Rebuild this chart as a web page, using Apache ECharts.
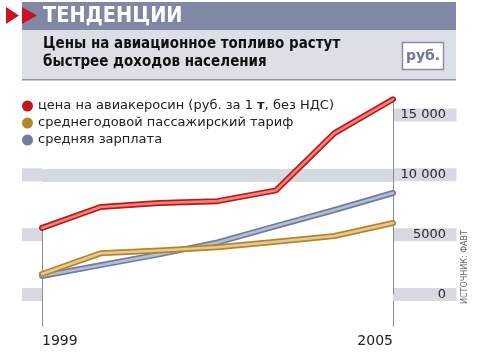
<!DOCTYPE html>
<html><head><meta charset="utf-8">
<script src="https://cdn.jsdelivr.net/npm/echarts@6/dist/echarts.min.js"></script>
<style>html,body{margin:0;padding:0;background:#fff}#c{width:481px;height:357px}</style>
</head><body><div id="c"></div>
<script>
const years = ['1999','2000','2001','2002','2003','2004','2005'];
const seriesNames = ['цена на авиакеросин (руб. за 1 т, без НДС)','среднегодовой пассажирский тариф','средняя зарплата'];
const fuelPrice = [5560, 7310, 7650, 7800, 8700, 13490, 16310];
const airFare   = [1710, 3440, 3680, 3950, 4410, 4890, 5970];
const avgSalary = [1550, 2450, 3350, 4350, 5720, 7060, 8480];
const yTicks = [0, 5000, 10000, 15000];
const yTickLabels = ['0', '5000', '10 000', '15 000'];

const outer = ['#c3141c', '#b4862a', '#6e7ea0'];
const inner = ['#e5887a', '#e8c995', '#b6bed2'];
const band = '#d6d9e2';

function tickLabel(v){ const i = yTicks.indexOf(v); return i < 0 ? '' : yTickLabels[i]; }
const edgeIdx = (i) => i === 0 || i === years.length - 1;

function mkSeries(idx, data, z, withMark){
  const s = [{
    name: seriesNames[idx], type: 'line', data: data, symbol: 'none', clip: false, z: z,
    itemStyle: {color: outer[idx]},
    lineStyle: {color: outer[idx], width: 6, cap: 'round', join: 'round'},
    emphasis: {disabled: true}
  }, {
    name: seriesNames[idx] + ' ', type: 'line', data: data, symbol: 'none', clip: false, z: z + 0.5,
    itemStyle: {color: inner[idx]},
    lineStyle: {color: inner[idx], width: 2.6, cap: 'round', join: 'round'},
    emphasis: {disabled: true}, tooltip: {show: false}
  }];
  if (withMark) {
    s[0].markLine = {
      silent: true, symbol: 'none', label: {show: false}, z: 1,
      lineStyle: {color: '#8c8c92', width: 1, type: 'solid'},
      data: [
        [{coord: [years[0], 0]}, {coord: [years[0], data[0]]}],
        [{coord: [years[years.length-1], 0]}, {coord: [years[years.length-1], data[data.length-1]]}]
      ]
    };
  }
  return s;
}

const chart = echarts.init(document.getElementById('c'), null, {renderer: 'canvas'});
chart.setOption({
  animation: false,
  backgroundColor: '#fff',
  grid: {left: 42, right: 88, top: 97, bottom: 62.5, containLabel: false},
  legend: {
    data: seriesNames, orient: 'vertical', left: 22, top: 98, padding: 0,
    icon: 'circle', itemWidth: 11, itemHeight: 11, itemGap: 1, selectedMode: false,
    textStyle: {fontFamily: 'DejaVu Sans', fontSize: 13, color: '#222', lineHeight: 16,
      rich: {b: {fontFamily: 'DejaVu Sans', fontSize: 13, fontWeight: 'bold', color: '#222'}}},
    formatter: (n) => n === seriesNames[0] ? 'цена на авиакеросин (руб. за 1 {b|т}, без НДС)' : n
  },
  xAxis: {
    type: 'category', data: years, boundaryGap: false,
    axisLine: {show: false},
    axisTick: {show: true, interval: (i) => edgeIdx(i), length: 32, lineStyle: {color: '#8c8c92', width: 1}},
    axisLabel: {interval: (i) => edgeIdx(i), margin: 40, fontFamily: 'DejaVu Sans', fontSize: 14, color: '#222',
      alignMinLabel: 'left', alignMaxLabel: 'right'},
    splitLine: {show: false}
  },
  yAxis: [{
    type: 'value', min: 0, max: 16500, interval: 5000, position: 'left',
    axisLine: {show: false}, axisTick: {show: false},
    splitLine: {show: true, lineStyle: {width: 13, color: ['rgba(0,0,0,0)','rgba(0,0,0,0)', band, 'rgba(0,0,0,0)','rgba(0,0,0,0)']}},
    axisLabel: {margin: 0, showMaxLabel: false,
      formatter: (v) => (v === 15000 || yTicks.indexOf(v) < 0) ? '' : '{b| }',
      rich: {b: {width: 20, height: 13, lineHeight: 13, backgroundColor: band}}}
  }, {
    type: 'value', min: 0, max: 16500, interval: 5000, position: 'right',
    axisLine: {show: false}, axisTick: {show: false}, splitLine: {show: false},
    axisLabel: {margin: 0, showMaxLabel: false,
      formatter: (v) => { const t = tickLabel(v); return t ? '{b|' + t + '}' : ''; },
      rich: {b: {width: 53, height: 13, lineHeight: 13, align: 'right', padding: [0, 10.5, 0, 0],
        backgroundColor: band, fontFamily: 'DejaVu Sans', fontSize: 13, color: '#2a2a2a'}}}
  }],
  series: [].concat(mkSeries(2, avgSalary, 3, false), mkSeries(1, airFare, 5, false), mkSeries(0, fuelPrice, 7, true)),
  graphic: [
    {type: 'rect', shape: {x: 22, y: 2, width: 434, height: 28}, style: {fill: '#8088a6'}},
    {type: 'rect', shape: {x: 22, y: 30, width: 434, height: 49}, style: {fill: '#dcdfe6'}},
    {type: 'rect', shape: {x: 22, y: 79, width: 434, height: 1.5}, style: {fill: '#8a90ad'}},
    {type: 'polygon', shape: {points: [[6, 7], [19, 15.5], [6, 24]]}, style: {fill: '#cc1220'}},
    {type: 'polygon', shape: {points: [[22, 7], [37, 15.5], [22, 24]]}, style: {fill: '#cc1220'}},
    {type: 'text', x: 43, y: 16.5, style: {text: 'ТЕНДЕНЦИИ', fill: '#fff', font: 'bold 21.5px "DejaVu Sans Condensed", "DejaVu Sans"', textVerticalAlign: 'middle'}},
    {type: 'text', x: 43, y: 44.5, style: {text: 'Цены на авиационное топливо растут', fill: '#111', font: 'bold 15px "DejaVu Sans Condensed", "DejaVu Sans"', textVerticalAlign: 'middle'}},
    {type: 'text', x: 43, y: 62, style: {text: 'быстрее доходов населения', fill: '#111', font: 'bold 15px "DejaVu Sans Condensed", "DejaVu Sans"', textVerticalAlign: 'middle'}},
    {type: 'rect', shape: {x: 402.5, y: 42.5, width: 41, height: 27}, style: {fill: '#fff', stroke: '#8a90ad', lineWidth: 1.5}},
    {type: 'text', x: 423, y: 56, style: {text: 'руб.', fill: '#6f7898', font: 'bold 14px "DejaVu Sans"', textAlign: 'center', textVerticalAlign: 'middle'}},
    {type: 'text', x: 464.5, y: 267, rotation: Math.PI / 2, style: {text: 'ИСТОЧНИК: ФАВТ', fill: '#666', font: '8px "DejaVu Sans"', textAlign: 'center', textVerticalAlign: 'middle'}}
  ]
});
</script></body></html>
